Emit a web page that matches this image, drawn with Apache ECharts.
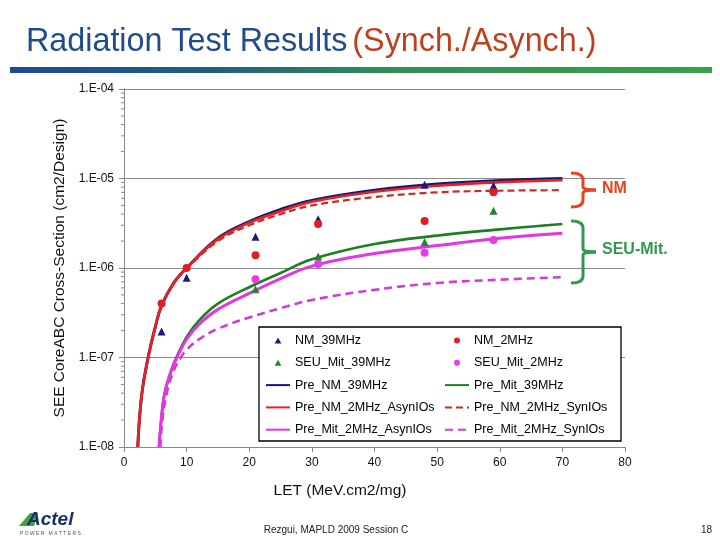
<!DOCTYPE html>
<html>
<head>
<meta charset="utf-8">
<script src="https://cdn.jsdelivr.net/npm/echarts@6/dist/echarts.min.js"></script>
<style>html,body{margin:0;padding:0;background:#fff;}#c{width:720px;height:540px;}</style>
</head>
<body>
<div id="c"></div>
<script>
// ---- data ----
const xTicks = [0, 10, 20, 30, 40, 50, 60, 70, 80];
const yTickExponents = [-8, -7, -6, -5, -4];

// measured points (LET vs cross-section)
const letNMPts = [6, 10, 21, 31, 48, 59];
const nm39 = [1.95e-7, 7.8e-7, 2.24e-6, 3.5e-6, 8.5e-6, 8.3e-6];
const nm2 = [4.0e-7, 1.0e-6, 1.39e-6, 3.1e-6, 3.35e-6, 7.0e-6];
const letMitPts = [21, 31, 48, 59];
const seu39 = [5.8e-7, 1.34e-6, 1.95e-6, 4.37e-6];
const seu2 = [7.5e-7, 1.11e-6, 1.48e-6, 2.05e-6];

// predicted curves
const letNM = [2.2, 2.5, 3, 4, 5, 6, 8, 10, 15, 20, 25, 30, 40, 50, 60, 70];
const preNM39 = [1.0e-8, 2.2e-8, 4.7e-8, 1.12e-7, 2.2e-7, 3.8e-7, 6.9e-7, 1.0e-6, 2.15e-6, 3.3e-6, 4.5e-6, 5.7e-6, 7.4e-6, 8.7e-6, 9.5e-6, 1.0e-5];
const preNM2Asyn = [1.0e-8, 2.2e-8, 4.7e-8, 1.12e-7, 2.2e-7, 3.8e-7, 6.9e-7, 1.0e-6, 2.1e-6, 3.2e-6, 4.3e-6, 5.5e-6, 7.1e-6, 8.3e-6, 9.1e-6, 9.6e-6];
const preNM2Syn = [1.0e-8, 2.2e-8, 4.7e-8, 1.12e-7, 2.2e-7, 3.8e-7, 6.8e-7, 9.8e-7, 2.0e-6, 3.0e-6, 4.0e-6, 5.0e-6, 6.2e-6, 7.0e-6, 7.3e-6, 7.4e-6];
const letMit = [5.6, 6, 6.5, 7.5, 8.5, 10, 12, 15, 20, 25, 30, 40, 50, 60, 70];
const preMit39 = [1.0e-8, 2.2e-8, 4.0e-8, 7.0e-8, 1.05e-7, 1.7e-7, 2.6e-7, 4.0e-7, 6.1e-7, 8.8e-7, 1.25e-6, 1.85e-6, 2.3e-6, 2.7e-6, 3.1e-6];
const preMit2Asyn = [1.0e-8, 2.2e-8, 4.0e-8, 7.0e-8, 1.02e-7, 1.6e-7, 2.35e-7, 3.45e-7, 5.2e-7, 7.6e-7, 1.05e-6, 1.45e-6, 1.78e-6, 2.15e-6, 2.45e-6];
const letMitSyn = [5.8, 6.2, 7, 8, 9, 10, 12, 15, 20, 25, 30, 40, 50, 60, 70];
const preMit2Syn = [1.0e-8, 2.2e-8, 4.5e-8, 7.3e-8, 9.8e-8, 1.22e-7, 1.6e-7, 2.1e-7, 2.8e-7, 3.55e-7, 4.4e-7, 5.7e-7, 6.8e-7, 7.4e-7, 7.9e-7];

// log minor tick values on the y axis
const minorTickValues = [
  2e-8,3e-8,4e-8,5e-8,6e-8,7e-8,8e-8,9e-8,
  2e-7,3e-7,4e-7,5e-7,6e-7,7e-7,8e-7,9e-7,
  2e-6,3e-6,4e-6,5e-6,6e-6,7e-6,8e-6,9e-6,
  2e-5,3e-5,4e-5,5e-5,6e-5,7e-5,8e-5,9e-5
];

const legendLeft = ['NM_39MHz', 'SEU_Mit_39MHz', 'Pre_NM_39MHz', 'Pre_NM_2MHz_AsynIOs', 'Pre_Mit_2MHz_AsynIOs'];
const legendRight = ['NM_2MHz', 'SEU_Mit_2MHz', 'Pre_Mit_39MHz', 'Pre_NM_2MHz_SynIOs', 'Pre_Mit_2MHz_SynIOs'];
const triangleNames = ['NM_39MHz', 'SEU_Mit_39MHz'];
const circleNames = ['NM_2MHz', 'SEU_Mit_2MHz'];

// ---- chart ----
const FONT = '"Liberation Sans", Arial, Helvetica, sans-serif';
const zip = (xs, ys) => xs.map((x, i) => [x, ys[i]]);
const TRI_ICON = 'path://M5,0 L10,9 L0,9 Z';
const DOT_ICON = 'path://M5,0 A5,5 0 1 1 4.99,0 Z';

const chart = echarts.init(document.getElementById('c'), null, {renderer: 'canvas'});

function lineSeries(name, xs, ys, color, width, type) {
  return {
    name, type: 'line', data: zip(xs, ys), symbol: 'none', showSymbol: false,
    smooth: 0.4, clip: true,
    lineStyle: {color, width, type: type || 'solid'},
    itemStyle: {color}, z: 2
  };
}

function legendItems(names) {
  return names.map(n => {
    if (triangleNames.includes(n)) return {name: n, icon: TRI_ICON};
    if (circleNames.includes(n)) return {name: n, icon: DOT_ICON};
    return {name: n, itemStyle: {opacity: 0}};
  });
}

function brace(xl, xr, xp, yt, yb, color) {
  const ym = (yt + yb) / 2;
  const r = 7;
  const st = {stroke: color, lineWidth: 3, fill: null};
  return [
    {type: 'bezierCurve', z: 6, shape: {x1: xl, y1: yt, cpx1: xr, cpy1: yt, x2: xr, y2: yt + r}, style: st},
    {type: 'line', z: 6, shape: {x1: xr, y1: yt + r, x2: xr, y2: ym - 3}, style: st},
    {type: 'bezierCurve', z: 6, shape: {x1: xr, y1: ym - 3, cpx1: xr, cpy1: ym, x2: xp, y2: ym}, style: st},
    {type: 'bezierCurve', z: 6, shape: {x1: xp, y1: ym, cpx1: xr, cpy1: ym, x2: xr, y2: ym + 3}, style: st},
    {type: 'line', z: 6, shape: {x1: xr, y1: ym + 3, x2: xr, y2: yb - r}, style: st},
    {type: 'bezierCurve', z: 6, shape: {x1: xr, y1: yb - r, cpx1: xr, cpy1: yb, x2: xl, y2: yb}, style: st}
  ];
}

const legendCommon = {
  orient: 'vertical', top: 334, itemWidth: 24, itemHeight: 6, itemGap: 9.3, padding: 0,
  selectedMode: false, z: 10, symbolKeepAspect: true,
  textStyle: {fontSize: 12.5, color: '#000', fontFamily: FONT}
};

const option = {
  backgroundColor: '#fff',
  animation: false,
  textStyle: {fontFamily: FONT},
  title: {
    text: '{a|Radiation Test Results} {b|(Synch./Asynch.)}',
    left: 21, top: 21,
    textStyle: {
      fontFamily: FONT, fontWeight: 'normal',
      rich: {
        a: {fontSize: 32.3, color: '#1F4C8D', fontFamily: FONT, fontWeight: 'normal'},
        b: {fontSize: 32.3, color: '#BF401C', fontFamily: FONT, fontWeight: 'normal'}
      }
    }
  },
  grid: {left: 124, right: 95, top: 89, bottom: 93, outerBoundsMode: 'none'},
  xAxis: {
    type: 'value', min: 0, max: 80, interval: 10,
    axisLine: {show: true, lineStyle: {color: '#888', width: 1}},
    axisTick: {show: true, length: 5, lineStyle: {color: '#888'}},
    splitLine: {show: false},
    axisLabel: {fontSize: 12, color: '#111', margin: 10, fontFamily: FONT,
      formatter: v => xTicks.includes(v) ? String(v) : ''}
  },
  yAxis: {
    type: 'log', logBase: 10, min: 1e-8, max: 1e-4, interval: 1,
    name: 'SEE CoreABC Cross-Section (cm2/Design)',
    nameLocation: 'middle', nameGap: 55,
    nameTextStyle: {fontSize: 15.5, color: '#111', fontFamily: FONT},
    axisLine: {show: true, lineStyle: {color: '#888', width: 1}},
    axisTick: {show: true, length: 5, lineStyle: {color: '#888'}},
    splitLine: {show: true, lineStyle: {color: '#8c8c8c', width: 1}},
    minorTick: {show: false},
    axisLabel: {fontSize: 12, color: '#111', margin: 10, fontFamily: FONT,
      formatter: v => {
        const e = Math.round(Math.log10(v));
        if (!yTickExponents.includes(e)) return '';
        return '1.E-' + String(-e).padStart(2, '0');
      }}
  },
  legend: [
    Object.assign({}, legendCommon, {data: legendItems(legendLeft), left: 265}),
    Object.assign({}, legendCommon, {data: legendItems(legendRight), left: 444})
  ],
  series: [
    lineSeries('Pre_NM_39MHz', letNM, preNM39, '#17177A', 3),
    lineSeries('Pre_Mit_39MHz', letMit, preMit39, '#1E7E22', 2.6),
    lineSeries('Pre_Mit_2MHz_SynIOs', letMitSyn, preMit2Syn, '#D23CD2', 2.6, [8, 5]),
    lineSeries('Pre_Mit_2MHz_AsynIOs', letMit, preMit2Asyn, '#E434E4', 3),
    lineSeries('Pre_NM_2MHz_SynIOs', letNM, preNM2Syn, '#CC2A2A', 2.2, [7, 4]),
    lineSeries('Pre_NM_2MHz_AsynIOs', letNM, preNM2Asyn, '#E8221E', 2.6),
    {
      name: 'minorTicks', type: 'custom', silent: true, clip: false, z: 3,
      data: minorTickValues.map(v => [0, v]),
      renderItem: (params, api) => {
        const p = api.coord([api.value(0), api.value(1)]);
        return {type: 'line', shape: {x1: p[0] - 3, y1: p[1], x2: p[0], y2: p[1]},
          style: {stroke: '#888', lineWidth: 1}};
      }
    },
    {name: 'NM_39MHz', type: 'scatter', data: zip(letNMPts, nm39), symbol: 'triangle', symbolSize: 8,
      itemStyle: {color: '#1A1A78', opacity: 1}, z: 4},
    {name: 'NM_2MHz', type: 'scatter', data: zip(letNMPts, nm2), symbol: 'circle', symbolSize: 8,
      itemStyle: {color: '#E41E1E', opacity: 1}, z: 4},
    {name: 'SEU_Mit_39MHz', type: 'scatter', data: zip(letMitPts, seu39), symbol: 'triangle', symbolSize: 8,
      itemStyle: {color: '#23862A', opacity: 1}, z: 4},
    {name: 'SEU_Mit_2MHz', type: 'scatter', data: zip(letMitPts, seu2), symbol: 'circle', symbolSize: 8,
      itemStyle: {color: '#E63CE6', opacity: 1}, z: 4}
  ],
  graphic: [
    {type: 'rect', shape: {x: 10, y: 67, width: 702, height: 6}, z: 1,
      style: {fill: {type: 'linear', x: 0, y: 0, x2: 1, y2: 0, colorStops: [
        {offset: 0, color: '#1B4A94'}, {offset: 0.3, color: '#22607E'}, {offset: 0.55, color: '#2F9152'},
        {offset: 1, color: '#35A24A'}]}}},
    {type: 'rect', shape: {x: 259, y: 327, width: 362, height: 114}, z: 6,
      style: {fill: '#fff', stroke: '#000', lineWidth: 1.3}},
    {type: 'text', x: 340, y: 491, z: 6,
      style: {text: 'LET (MeV.cm2/mg)', font: '15.5px ' + FONT, fill: '#111', align: 'center', verticalAlign: 'middle'}},
    ...brace(571, 583, 596, 173, 207, '#E8441E'),
    {type: 'text', x: 602, y: 189, z: 6,
      style: {text: 'NM', font: 'bold 16px ' + FONT, fill: '#E8441E', verticalAlign: 'middle'}},
    ...brace(571, 583, 596, 221, 283, '#2E9A4A'),
    {type: 'text', x: 602, y: 250, z: 6,
      style: {text: 'SEU-Mit.', font: 'bold 16px ' + FONT, fill: '#2E9A4A', verticalAlign: 'middle'}},
    {type: 'text', x: 336, y: 530, z: 6,
      style: {text: 'Rezgui, MAPLD 2009 Session C', font: '10px ' + FONT, fill: '#222', align: 'center', verticalAlign: 'middle'}},
    {type: 'text', x: 712, y: 530, z: 6,
      style: {text: '18', font: '10px ' + FONT, fill: '#222', align: 'right', verticalAlign: 'middle'}},
    {type: 'polygon', z: 6, shape: {points: [[19, 526], [30, 513], [38, 513], [34, 526]]}, style: {fill: '#3FA535'}},
    {type: 'text', x: 27, y: 520, z: 7,
      style: {text: 'Actel', font: 'italic bold 19px ' + FONT, fill: '#1B2F6E', verticalAlign: 'middle'}},
    {type: 'text', x: 20, y: 534, z: 6,
      style: {text: 'P O W E R   M A T T E R S', font: '5px ' + FONT, fill: '#555', verticalAlign: 'middle'}}
  ]
};
chart.setOption(option);
</script>
</body>
</html>
